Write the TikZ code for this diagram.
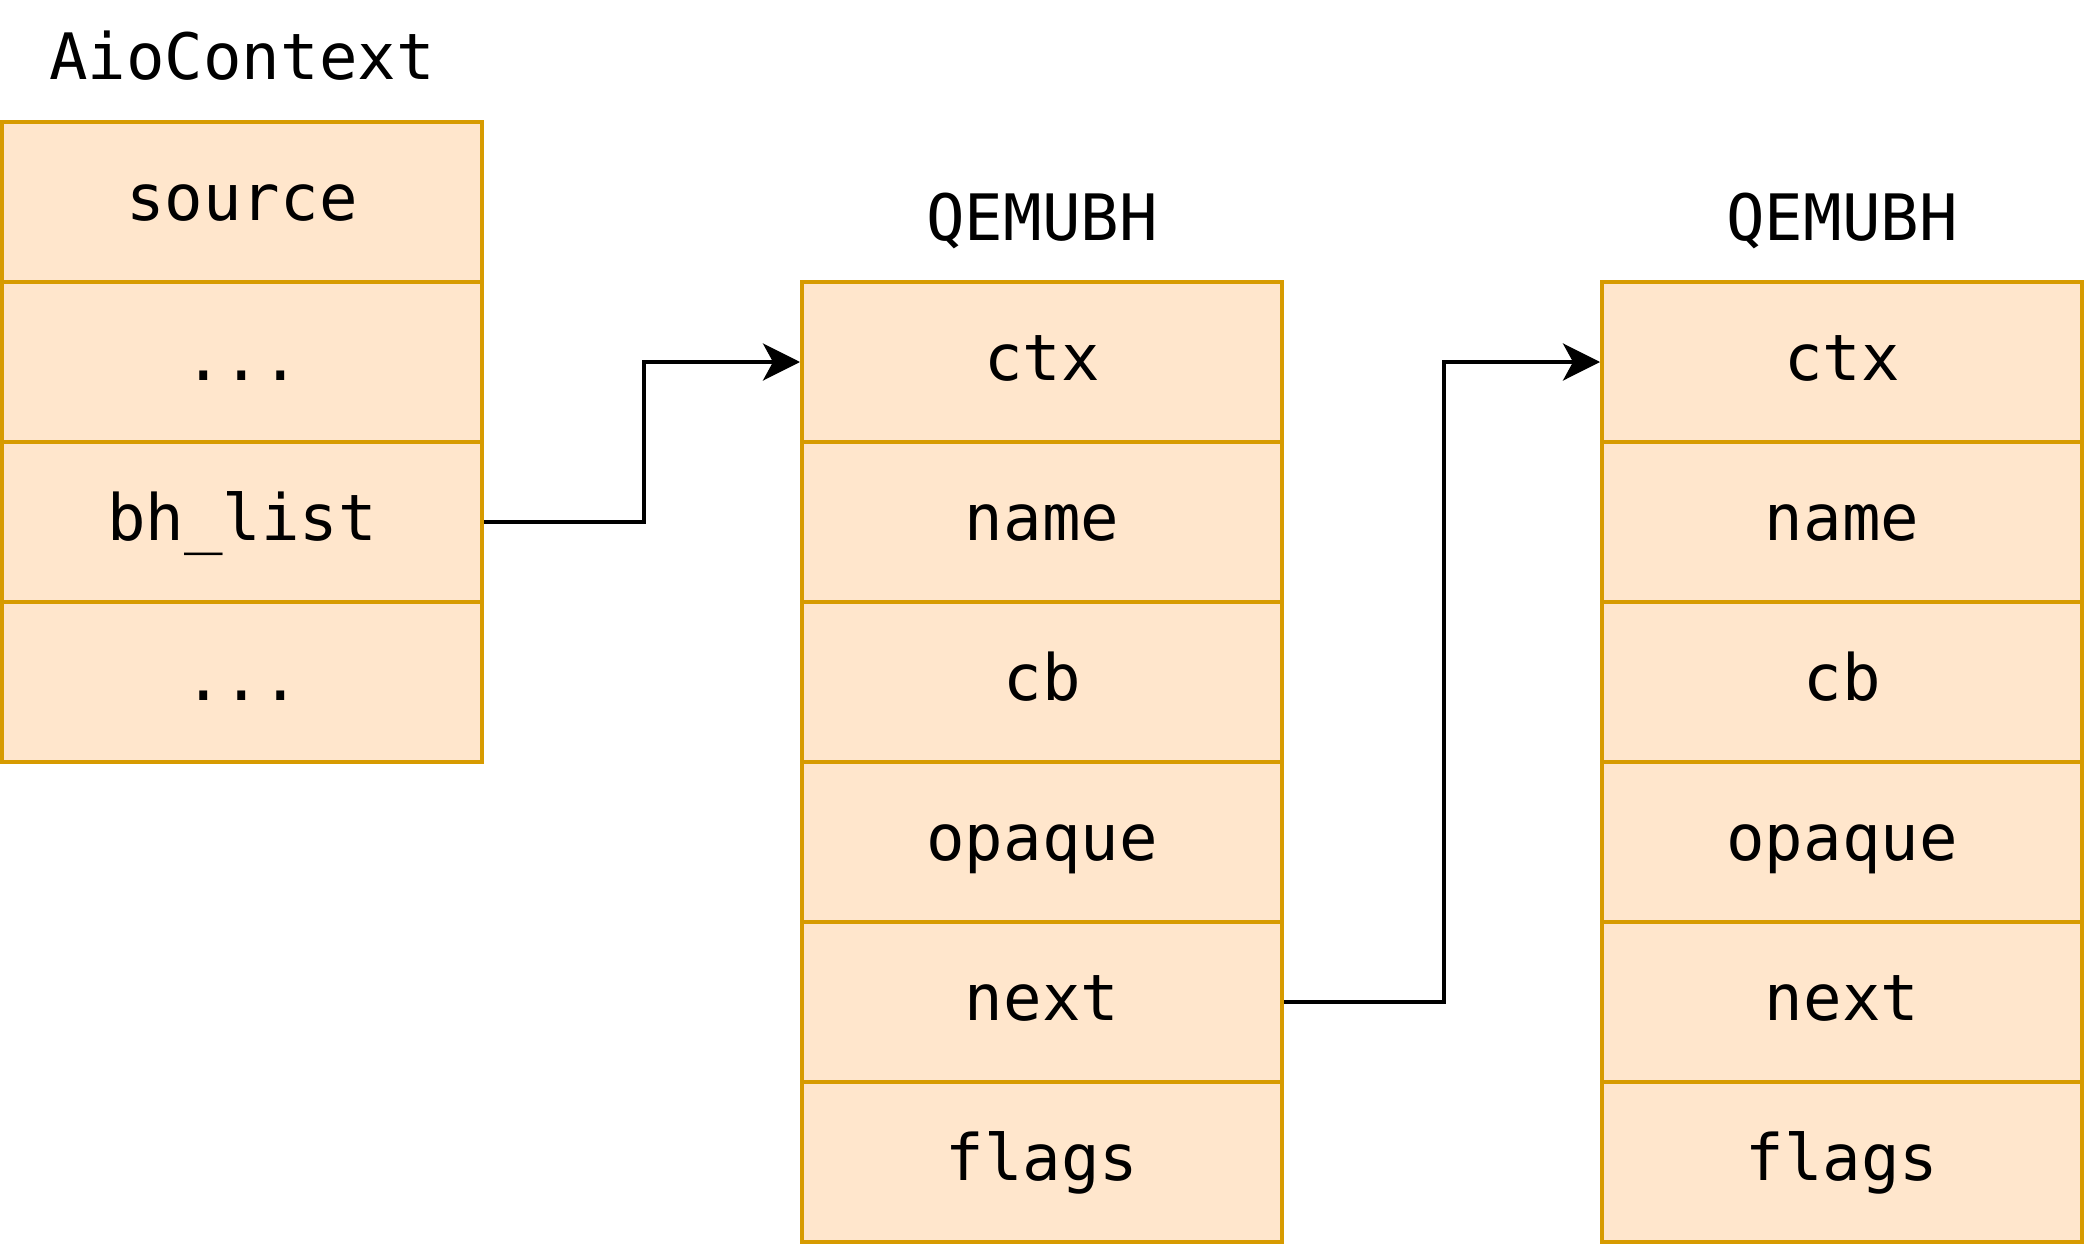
\documentclass[tikz,border=0pt]{standalone}
\usepackage{fontspec}
\setmonofont{DejaVu Sans Mono}
\usetikzlibrary{arrows.meta}
\definecolor{cellfill}{HTML}{FFE6CC}
\definecolor{celldraw}{HTML}{D79B00}
\tikzset{
  cell/.style={draw=celldraw, fill=cellfill, line width=4pt, minimum width=480pt,
    minimum height=160pt, inner sep=0pt, text height=48pt, text depth=12pt,
    font=\ttfamily\fontsize{64}{72}\selectfont},
  title/.style={anchor=base, inner sep=0pt, font=\ttfamily\fontsize{64}{72}\selectfont},
  link/.style={line width=4pt, -{Stealth[length=37pt, width=37pt, inset=10pt]}}
}
\begin{document}
\begin{tikzpicture}[x=1pt,y=-1pt]
\useasboundingbox (0,0) rectangle (2084,1244);
% AioContext
\node[title] (t1) at (242,80) {AioContext};
\node[cell] (a1) at (242,202) {source};
\node[cell] (a2) at (242,362) {...};
\node[cell] (a3) at (242,522) {bh\_list};
\node[cell] (a4) at (242,682) {...};
% QEMUBH 1
\node[title] (t2) at (1042,240) {QEMUBH};
\node[cell] (b1) at (1042,362) {ctx};
\node[cell] (b2) at (1042,522) {name};
\node[cell] (b3) at (1042,682) {cb};
\node[cell] (b4) at (1042,842) {opaque};
\node[cell] (b5) at (1042,1002) {next};
\node[cell] (b6) at (1042,1162) {flags};
% QEMUBH 2
\node[title] (t3) at (1842,240) {QEMUBH};
\node[cell] (c1) at (1842,362) {ctx};
\node[cell] (c2) at (1842,522) {name};
\node[cell] (c3) at (1842,682) {cb};
\node[cell] (c4) at (1842,842) {opaque};
\node[cell] (c5) at (1842,1002) {next};
\node[cell] (c6) at (1842,1162) {flags};
% connectors
\draw[link] (a3.east) -- ++(160,0) |- (b1.west);
\draw[link] (b5.east) -- ++(160,0) |- (c1.west);
\end{tikzpicture}
\end{document}
